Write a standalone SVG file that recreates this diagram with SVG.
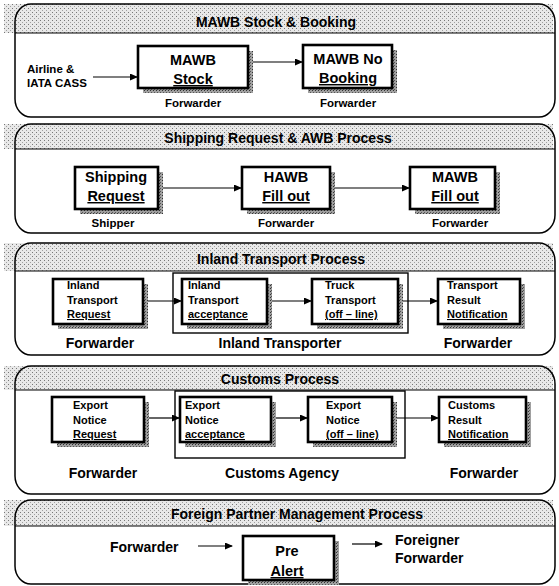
<svg xmlns="http://www.w3.org/2000/svg" width="559" height="586" viewBox="0 0 559 586">
<defs>
<pattern id="stip" width="4" height="4" patternUnits="userSpaceOnUse"><rect width="4" height="4" fill="#e8e8e8"/><rect x="0" y="0" width="1" height="1" fill="#777"/><rect x="2" y="2" width="1" height="1" fill="#a0a0a0"/></pattern>
<pattern id="shd" width="3" height="3" patternUnits="userSpaceOnUse"><rect width="3" height="3" fill="#a0a0a0"/><rect x="0" y="0" width="1" height="1" fill="#333"/><rect x="1" y="2" width="1" height="1" fill="#555"/></pattern>
<marker id="ah" markerWidth="8" markerHeight="7" refX="7" refY="3.5" orient="auto" markerUnits="userSpaceOnUse"><path d="M0,0 L8,3.5 L0,7 z" fill="#000"/></marker>
</defs>
<style>
text{font-family:"Liberation Sans",Arial,sans-serif;font-weight:bold;fill:#000}
.band{fill:url(#stip)}
.panel{fill:none;stroke:#000;stroke-width:1.5}
.hline{stroke:#000;stroke-width:1.2}
.title{font-size:14px;text-anchor:middle}
.shadow{fill:url(#shd)}
.box{fill:#fff;stroke:#000;stroke-width:2.6}
.encl{fill:none;stroke:#000;stroke-width:1.4}
.big{font-size:14.5px;text-anchor:middle}
.small{font-size:11px}
.lab1{font-size:11.5px;text-anchor:middle}
.lab2{font-size:14px;text-anchor:middle}
.ul{text-decoration:underline}
.conn line{stroke:#000;stroke-width:1.2;marker-end:url(#ah)}
</style>

<!-- Panel 1 -->
<g id="panel1">
<rect class="band" x="4" y="4" width="549" height="29"/>
<rect class="panel" x="15" y="4" width="540" height="113" rx="16" ry="18"/>
<line class="hline" x1="15" y1="33" x2="555" y2="33"/>
<text class="title" x="276" y="27">MAWB Stock &amp; Booking</text>
</g>
<g id="airline"><text x="27" y="73" font-size="11.5">Airline &amp;</text><text x="27" y="87" font-size="11.5">IATA CASS</text></g>
<g id="mawb-stock">
<rect class="shadow" x="143" y="51" width="110" height="42"/>
<rect class="box" x="138" y="46" width="110" height="42"/>
<text class="big" x="193" y="65">MAWB</text><text class="big ul" x="193" y="84">Stock</text>
<text class="lab1" x="193" y="107">Forwarder</text>
</g>
<g id="mawb-booking">
<rect class="shadow" x="308" y="50" width="89" height="43"/>
<rect class="box" x="303" y="45" width="89" height="43"/>
<text class="big" x="348" y="64">MAWB No</text><text class="big ul" x="348" y="83">Booking</text>
<text class="lab1" x="348" y="107">Forwarder</text>
</g>

<!-- Panel 2 -->
<g id="panel2">
<rect class="band" x="4" y="124" width="549" height="25"/>
<rect class="panel" x="15" y="124" width="540" height="109" rx="16" ry="18"/>
<line class="hline" x1="15" y1="149" x2="555" y2="149"/>
<text class="title" x="278" y="143">Shipping Request &amp; AWB Process</text>
</g>
<g id="shipping-request">
<rect class="shadow" x="80" y="172" width="83" height="42"/>
<rect class="box" x="75" y="167" width="83" height="42"/>
<text class="big" x="116" y="182">Shipping</text><text class="big ul" x="116" y="201">Request</text>
<text class="lab1" x="113" y="227">Shipper</text>
</g>
<g id="hawb-fill">
<rect class="shadow" x="247" y="172" width="88" height="42"/>
<rect class="box" x="242" y="167" width="88" height="42"/>
<text class="big" x="286" y="182">HAWB</text><text class="big ul" x="286" y="201">Fill out</text>
<text class="lab1" x="286" y="227">Forwarder</text>
</g>
<g id="mawb-fill">
<rect class="shadow" x="415" y="172" width="85" height="42"/>
<rect class="box" x="410" y="167" width="85" height="42"/>
<text class="big" x="455" y="182">MAWB</text><text class="big ul" x="455" y="201">Fill out</text>
<text class="lab1" x="460" y="227">Forwarder</text>
</g>

<!-- Panel 3 -->
<g id="panel3">
<rect class="band" x="4" y="243" width="549" height="28"/>
<rect class="panel" x="15" y="243" width="540" height="112" rx="16" ry="18"/>
<line class="hline" x1="15" y1="271" x2="555" y2="271"/>
<text class="title" x="281" y="264">Inland Transport Process</text>
</g>
<g id="inland-transporter">
<rect class="encl" x="173" y="273" width="235" height="60"/>
<text class="lab2" x="280" y="348">Inland Transporter</text>
</g>
<g id="inland-request">
<rect class="shadow" x="58" y="284" width="90" height="45"/>
<rect class="box" x="53" y="279" width="90" height="45"/>
<text class="small" x="67" y="289">Inland</text><text class="small" x="67" y="304">Transport</text><text class="small ul" x="67" y="318">Request</text>
<text class="lab2" x="100" y="348">Forwarder</text>
</g>
<g id="inland-acceptance">
<rect class="shadow" x="187" y="284" width="85" height="45"/>
<rect class="box" x="182" y="279" width="85" height="45"/>
<text class="small" x="188" y="289">Inland</text><text class="small" x="188" y="304">Transport</text><text class="small ul" x="188" y="318">acceptance</text>
</g>
<g id="truck-transport">
<rect class="shadow" x="317" y="284" width="86" height="45"/>
<rect class="box" x="312" y="279" width="86" height="45"/>
<text class="small" x="325" y="289">Truck</text><text class="small" x="325" y="304">Transport</text><text class="small ul" x="325" y="318">(off – line)</text>
</g>
<g id="transport-result">
<rect class="shadow" x="443" y="284" width="82" height="45"/>
<rect class="box" x="438" y="279" width="82" height="45"/>
<text class="small" x="447" y="289">Transport</text><text class="small" x="447" y="304">Result</text><text class="small ul" x="447" y="318">Notification</text>
<text class="lab2" x="478" y="348">Forwarder</text>
</g>

<!-- Panel 4 -->
<g id="panel4">
<rect class="band" x="4" y="366" width="549" height="24"/>
<rect class="panel" x="15" y="366" width="540" height="128" rx="16" ry="18"/>
<line class="hline" x1="15" y1="390" x2="555" y2="390"/>
<text class="title" x="280" y="384">Customs Process</text>
</g>
<g id="customs-agency">
<rect class="encl" x="175" y="391" width="230" height="67"/>
<text class="lab2" x="282" y="478">Customs Agency</text>
</g>
<g id="export-request">
<rect class="shadow" x="57" y="402" width="92" height="45"/>
<rect class="box" x="52" y="397" width="92" height="45"/>
<text class="small" x="73" y="409">Export</text><text class="small" x="73" y="424">Notice</text><text class="small ul" x="73" y="438">Request</text>
<text class="lab2" x="103" y="478">Forwarder</text>
</g>
<g id="export-acceptance">
<rect class="shadow" x="185" y="402" width="91" height="45"/>
<rect class="box" x="180" y="397" width="91" height="45"/>
<text class="small" x="185" y="409">Export</text><text class="small" x="185" y="424">Notice</text><text class="small ul" x="185" y="438">acceptance</text>
</g>
<g id="export-offline">
<rect class="shadow" x="313" y="402" width="84" height="45"/>
<rect class="box" x="308" y="397" width="84" height="45"/>
<text class="small" x="326" y="409">Export</text><text class="small" x="326" y="424">Notice</text><text class="small ul" x="326" y="438">(off – line)</text>
</g>
<g id="customs-result">
<rect class="shadow" x="444" y="402" width="87" height="45"/>
<rect class="box" x="439" y="397" width="87" height="45"/>
<text class="small" x="448" y="409">Customs</text><text class="small" x="448" y="424">Result</text><text class="small ul" x="448" y="438">Notification</text>
<text class="lab2" x="484" y="478">Forwarder</text>
</g>

<!-- Panel 5 -->
<g id="panel5">
<rect class="band" x="4" y="500" width="549" height="26"/>
<rect class="panel" x="15" y="500" width="540" height="84" rx="16" ry="18"/>
<line class="hline" x1="15" y1="526" x2="555" y2="526"/>
<text class="title" x="297" y="519">Foreign Partner Management Process</text>
</g>
<g id="fp-forwarder"><text x="110" y="552" font-size="14">Forwarder</text></g>
<g id="pre-alert">
<rect class="shadow" x="248" y="541" width="91" height="44"/>
<rect class="box" x="243" y="536" width="91" height="44"/>
<text class="big" x="287" y="556" font-size="15">Pre</text><text class="big ul" x="287" y="576" font-size="15">Alert</text>
</g>
<g id="foreigner-forwarder"><text x="395" y="545" font-size="14">Foreigner</text><text x="395" y="563" font-size="14">Forwarder</text></g>

<!-- Connectors -->
<g id="connectors" class="conn">
<line x1="93" y1="77" x2="137" y2="77"/>
<line x1="253" y1="62" x2="302" y2="62"/>
<line x1="163" y1="188" x2="241" y2="188"/>
<line x1="335" y1="188" x2="409" y2="188"/>
<line x1="148" y1="301" x2="181" y2="301"/>
<line x1="272" y1="301" x2="311" y2="301"/>
<line x1="403" y1="301" x2="437" y2="301"/>
<line x1="149" y1="418" x2="179" y2="418"/>
<line x1="276" y1="418" x2="307" y2="418"/>
<line x1="397" y1="418" x2="438" y2="418"/>
<line x1="198" y1="546" x2="232" y2="546"/>
<line x1="352" y1="544" x2="382" y2="544"/>
</g>
</svg>
